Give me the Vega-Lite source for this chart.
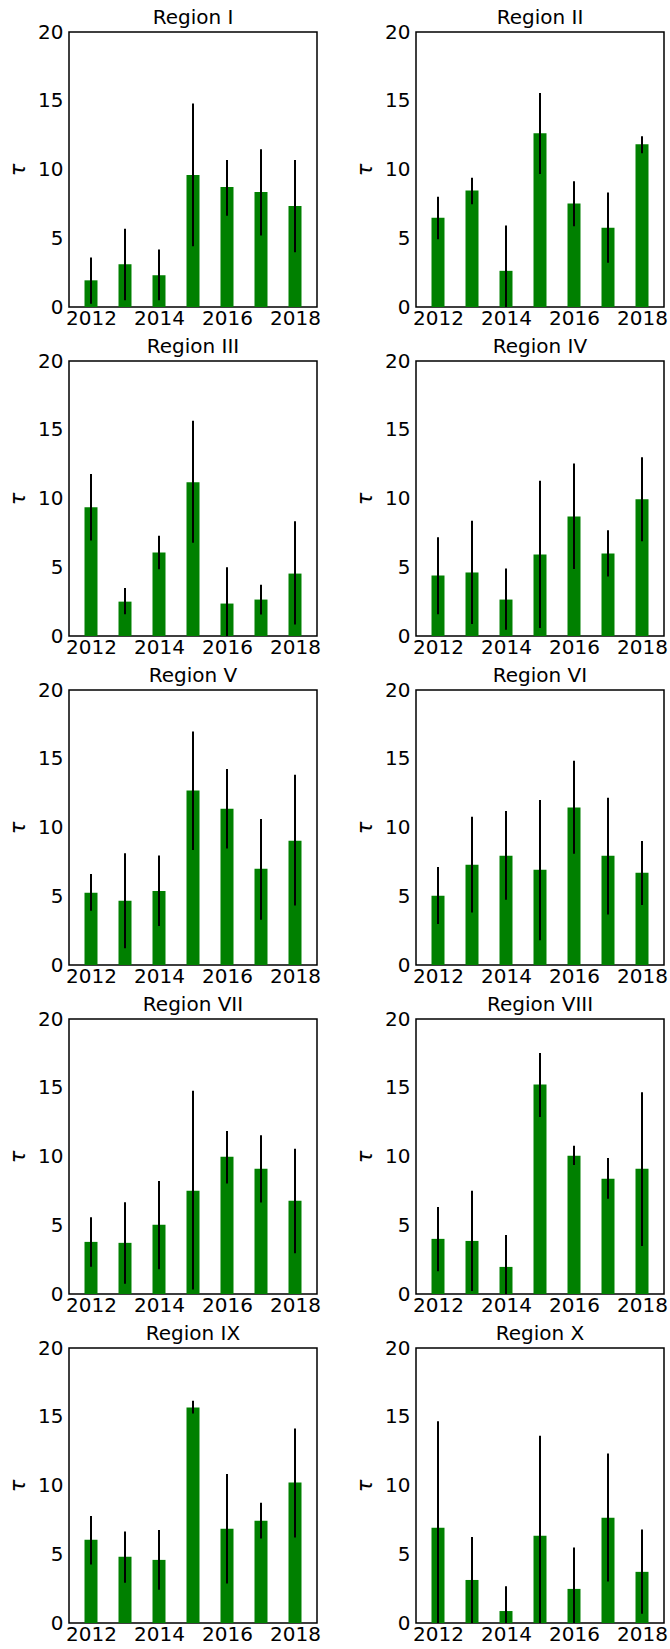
{
  "$schema": "https://vega.github.io/schema/vega-lite/v6.json",
  "padding": {"left": 6, "top": 7, "right": 2, "bottom": 2},
  "background": "white",
  "data": {"values": [
    {"region":"Region I","year":2012,"tau":1.94,"lo":0.24,"hi":3.6},
    {"region":"Region I","year":2013,"tau":3.11,"lo":0.49,"hi":5.69},
    {"region":"Region I","year":2014,"tau":2.31,"lo":0.49,"hi":4.18},
    {"region":"Region I","year":2015,"tau":9.6,"lo":4.42,"hi":14.8},
    {"region":"Region I","year":2016,"tau":8.72,"lo":6.63,"hi":10.69},
    {"region":"Region I","year":2017,"tau":8.36,"lo":5.2,"hi":11.47},
    {"region":"Region I","year":2018,"tau":7.34,"lo":3.99,"hi":10.69},
    {"region":"Region II","year":2012,"tau":6.5,"lo":4.92,"hi":8.01},
    {"region":"Region II","year":2013,"tau":8.48,"lo":7.48,"hi":9.4},
    {"region":"Region II","year":2014,"tau":2.63,"lo":0,"hi":5.92},
    {"region":"Region II","year":2015,"tau":12.64,"lo":9.67,"hi":15.57},
    {"region":"Region II","year":2016,"tau":7.53,"lo":5.87,"hi":9.14},
    {"region":"Region II","year":2017,"tau":5.77,"lo":3.22,"hi":8.33},
    {"region":"Region II","year":2018,"tau":11.84,"lo":11.18,"hi":12.42},
    {"region":"Region III","year":2012,"tau":9.36,"lo":6.95,"hi":11.79},
    {"region":"Region III","year":2013,"tau":2.5,"lo":1.58,"hi":3.5},
    {"region":"Region III","year":2014,"tau":6.08,"lo":4.86,"hi":7.29},
    {"region":"Region III","year":2015,"tau":11.18,"lo":6.78,"hi":15.65},
    {"region":"Region III","year":2016,"tau":2.36,"lo":0,"hi":5.0},
    {"region":"Region III","year":2017,"tau":2.65,"lo":1.56,"hi":3.72},
    {"region":"Region III","year":2018,"tau":4.54,"lo":0.83,"hi":8.34},
    {"region":"Region IV","year":2012,"tau":4.4,"lo":1.58,"hi":7.19},
    {"region":"Region IV","year":2013,"tau":4.62,"lo":0.87,"hi":8.38},
    {"region":"Region IV","year":2014,"tau":2.65,"lo":0.46,"hi":4.91},
    {"region":"Region IV","year":2015,"tau":5.93,"lo":0.58,"hi":11.3},
    {"region":"Region IV","year":2016,"tau":8.7,"lo":4.88,"hi":12.54},
    {"region":"Region IV","year":2017,"tau":6.0,"lo":4.33,"hi":7.7},
    {"region":"Region IV","year":2018,"tau":9.94,"lo":6.9,"hi":13.0},
    {"region":"Region V","year":2012,"tau":5.25,"lo":3.94,"hi":6.61},
    {"region":"Region V","year":2013,"tau":4.67,"lo":1.22,"hi":8.12},
    {"region":"Region V","year":2014,"tau":5.39,"lo":2.84,"hi":7.97},
    {"region":"Region V","year":2015,"tau":12.69,"lo":8.36,"hi":16.99},
    {"region":"Region V","year":2016,"tau":11.37,"lo":8.48,"hi":14.26},
    {"region":"Region V","year":2017,"tau":7.0,"lo":3.3,"hi":10.62},
    {"region":"Region V","year":2018,"tau":9.04,"lo":4.33,"hi":13.83},
    {"region":"Region VI","year":2012,"tau":5.03,"lo":2.99,"hi":7.12},
    {"region":"Region VI","year":2013,"tau":7.29,"lo":3.82,"hi":10.79},
    {"region":"Region VI","year":2014,"tau":7.95,"lo":4.74,"hi":11.2},
    {"region":"Region VI","year":2015,"tau":6.93,"lo":1.8,"hi":12.0},
    {"region":"Region VI","year":2016,"tau":11.45,"lo":8.09,"hi":14.85},
    {"region":"Region VI","year":2017,"tau":7.95,"lo":3.67,"hi":12.17},
    {"region":"Region VI","year":2018,"tau":6.71,"lo":4.37,"hi":9.02},
    {"region":"Region VII","year":2012,"tau":3.79,"lo":1.99,"hi":5.59},
    {"region":"Region VII","year":2013,"tau":3.72,"lo":0.75,"hi":6.68},
    {"region":"Region VII","year":2014,"tau":5.03,"lo":1.8,"hi":8.21},
    {"region":"Region VII","year":2015,"tau":7.51,"lo":0.32,"hi":14.78},
    {"region":"Region VII","year":2016,"tau":9.99,"lo":8.04,"hi":11.86},
    {"region":"Region VII","year":2017,"tau":9.11,"lo":6.66,"hi":11.54},
    {"region":"Region VII","year":2018,"tau":6.78,"lo":2.96,"hi":10.57},
    {"region":"Region VIII","year":2012,"tau":4.01,"lo":1.65,"hi":6.32},
    {"region":"Region VIII","year":2013,"tau":3.86,"lo":0.22,"hi":7.51},
    {"region":"Region VIII","year":2014,"tau":1.97,"lo":0,"hi":4.3},
    {"region":"Region VIII","year":2015,"tau":15.24,"lo":12.88,"hi":17.52},
    {"region":"Region VIII","year":2016,"tau":10.06,"lo":9.38,"hi":10.79},
    {"region":"Region VIII","year":2017,"tau":8.38,"lo":6.93,"hi":9.89},
    {"region":"Region VIII","year":2018,"tau":9.11,"lo":3.5,"hi":14.68},
    {"region":"Region IX","year":2012,"tau":6.05,"lo":4.25,"hi":7.78},
    {"region":"Region IX","year":2013,"tau":4.81,"lo":2.92,"hi":6.66},
    {"region":"Region IX","year":2014,"tau":4.59,"lo":2.41,"hi":6.76},
    {"region":"Region IX","year":2015,"tau":15.67,"lo":15.24,"hi":16.16},
    {"region":"Region IX","year":2016,"tau":6.85,"lo":2.87,"hi":10.84},
    {"region":"Region IX","year":2017,"tau":7.44,"lo":6.15,"hi":8.75},
    {"region":"Region IX","year":2018,"tau":10.21,"lo":6.22,"hi":14.14},
    {"region":"Region X","year":2012,"tau":6.93,"lo":0,"hi":14.68},
    {"region":"Region X","year":2013,"tau":3.13,"lo":0,"hi":6.25},
    {"region":"Region X","year":2014,"tau":0.87,"lo":0,"hi":2.67},
    {"region":"Region X","year":2015,"tau":6.34,"lo":0,"hi":13.61},
    {"region":"Region X","year":2016,"tau":2.48,"lo":0,"hi":5.49},
    {"region":"Region X","year":2017,"tau":7.65,"lo":3.01,"hi":12.32},
    {"region":"Region X","year":2018,"tau":3.72,"lo":0.68,"hi":6.8}
  ]},
  "facet": {
    "field": "region",
    "type": "nominal",
    "sort": ["Region I","Region II","Region III","Region IV","Region V","Region VI","Region VII","Region VIII","Region IX","Region X"],
    "header": {"title": null, "labelFontSize": 20, "labelFont": "DejaVu Sans", "labelColor": "black", "labelPadding": -6}
  },
  "columns": 2,
  "spacing": {"column": 31, "row": 7},
  "resolve": {"axis": {"x": "independent", "y": "independent"}},
  "spec": {
    "width": 248,
    "height": 275,
    "layer": [
      {
        "mark": {"type": "bar", "color": "green", "size": 13},
        "encoding": {
          "x": {"field": "year", "type": "quantitative",
                "scale": {"domain": [2011.5, 2018.5], "nice": false, "zero": false},
                "axis": {"values": [2012, 2014, 2016, 2018], "format": "d", "title": null}},
          "y": {"field": "tau", "type": "quantitative",
                "scale": {"domain": [0, 20], "nice": false},
                "axis": {"values": [0, 5, 10, 15, 20], "title": "τ"}}
        }
      },
      {
        "mark": {"type": "rule", "color": "black", "strokeWidth": 2},
        "encoding": {
          "x": {"field": "year", "type": "quantitative"},
          "y": {"field": "lo", "type": "quantitative"},
          "y2": {"field": "hi"}
        }
      }
    ]
  },
  "config": {
    "view": {"stroke": "black", "strokeWidth": 1.5},
    "axis": {
      "labelFont": "DejaVu Sans", "labelFontSize": 20, "labelColor": "black",
      "titleFont": "DejaVu Sans", "titleFontSize": 21, "titleColor": "black",
      "titleFontWeight": "normal", "titleFontStyle": "italic",
      "ticks": false, "domain": false, "grid": false,
      "labelFlush": false, "labelOverlap": false
    },
    "axisX": {"labelPadding": 1},
    "axisY": {"labelPadding": 6, "titlePadding": 9}
  }
}
